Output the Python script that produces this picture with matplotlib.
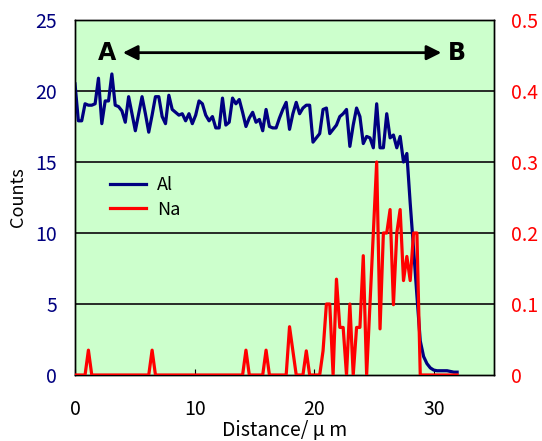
import numpy as np
import matplotlib
matplotlib.use("Agg")
import matplotlib.pyplot as plt
from matplotlib.ticker import FixedLocator

plt.rcParams['font.family'] = ['Noto Sans CJK JP', 'DejaVu Sans']

step_um = 0.28
al_counts = [
    20.5, 17.9, 17.9, 19.1, 19.0, 19.0, 19.1, 20.9, 17.7, 19.3,
    19.3, 21.2, 19.0, 18.9, 18.6, 17.8, 19.6, 18.4, 17.2, 18.4,
    19.6, 18.4, 17.1, 18.3, 19.6, 19.6, 18.2, 17.7, 19.7, 18.7,
    18.5, 18.3, 18.4, 17.9, 18.4, 17.7, 18.3, 19.3, 19.1, 18.3,
    17.9, 18.2, 17.4, 17.4, 19.5, 17.6, 17.8, 19.5, 19.1, 19.4,
    18.5, 17.5, 18.1, 18.5, 17.8, 18.0, 17.2, 18.7, 17.5, 17.4,
    17.4, 18.1, 18.7, 19.2, 17.3, 18.4, 19.2, 18.4, 18.8, 19.0,
    19.0, 16.4, 16.7, 17.0, 18.7, 18.8, 17.0, 17.3, 17.6, 18.2,
    18.4, 18.7, 16.1, 17.6, 18.8, 18.2, 16.3, 16.8, 16.7, 16.0,
    19.1, 16.0, 16.0, 18.4, 16.7, 16.9, 16.0, 16.8, 15.0, 15.6,
    12.1, 8.9, 5.6, 2.4, 1.3, 0.8, 0.5, 0.35, 0.3, 0.3,
    0.3, 0.3, 0.25, 0.2, 0.2,
]
na_values = [0.0] * len(al_counts)
na_nonzero = {
    4: 0.035, 23: 0.035, 51: 0.035, 57: 0.035, 64: 0.068, 65: 0.034,
    69: 0.034, 74: 0.034, 75: 0.1, 76: 0.1, 78: 0.135, 79: 0.067,
    80: 0.067, 82: 0.1, 84: 0.067, 85: 0.067, 86: 0.168, 88: 0.1,
    89: 0.2, 90: 0.3, 91: 0.065, 92: 0.2, 93: 0.2, 94: 0.233,
    95: 0.099, 96: 0.2, 97: 0.233, 98: 0.133, 99: 0.167, 100: 0.133,
    101: 0.2, 102: 0.2,
}
for k, v in na_nonzero.items():
    na_values[k] = v
distance = np.arange(len(al_counts)) * step_um

x_ticks = [0, 10, 20, 30]
left_ticks = [0, 5, 10, 15, 20, 25]
right_ticks = [0, 0.1, 0.2, 0.3, 0.4, 0.5]
right_labels = ['0', '0.1', '0.2', '0.3', '0.4', '0.5']

navy = '#000080'
red = '#FF0000'

fig = plt.figure(figsize=(5.42, 4.41), dpi=100)
ax = fig.add_axes([75/542, 1-375/441, (494-75)/542, (375-20)/441])
ax.set_facecolor('#CCFFCC')
ax.set_xlim(0, 35)
ax.set_ylim(0, 25)
ax.xaxis.set_major_locator(FixedLocator(x_ticks))
ax.yaxis.set_major_locator(FixedLocator(left_ticks))
for y in left_ticks[1:]:
    ax.axhline(y, color='#1a1a1a', lw=1.3, zorder=1)

l1, = ax.plot(distance, al_counts, color=navy, lw=2.3, zorder=3, label='Al')

ax2 = ax.twinx()
ax2.set_ylim(0, 0.5)
ax2.yaxis.set_major_locator(FixedLocator(right_ticks))
ax2.set_yticklabels(right_labels)
l2, = ax2.plot(distance, na_values, color=red, lw=2.3, zorder=3, label='Na')

ax.tick_params(axis='x', direction='in', length=4, pad=17, labelsize=14, colors='black')
ax.tick_params(axis='y', direction='out', length=0, pad=13, labelsize=14, labelcolor=navy)
ax2.tick_params(axis='y', direction='out', length=0, pad=12, labelsize=14, labelcolor=red)
for a in (ax, ax2):
    for s in a.spines.values():
        s.set_color('black')
        s.set_linewidth(1.0)

ax.set_xlabel('Distance/ μ m', fontsize=14, labelpad=0)
ax.set_ylabel('Counts', fontsize=13, labelpad=6)

leg = ax2.legend([l1, l2], ['Al', 'Na'], loc='upper left',
                 bbox_to_anchor=(0.045, 0.605), frameon=False, fontsize=13,
                 handlelength=2.0, labelspacing=0.35, handletextpad=0.6)

ax.annotate('', xy=(30.6, 22.7), xytext=(4.0, 22.7),
            arrowprops=dict(arrowstyle='<|-|>', color='black', lw=2.0,
                            mutation_scale=22, shrinkA=0, shrinkB=0), zorder=5)
ax.text(2.7, 22.7, 'A', fontsize=17, fontweight='bold', ha='center', va='center',
        family=['DejaVu Sans'])
ax.text(31.9, 22.7, 'B', fontsize=17, fontweight='bold', ha='center', va='center',
        family=['DejaVu Sans'])

fig.savefig('out.png', dpi=100)
